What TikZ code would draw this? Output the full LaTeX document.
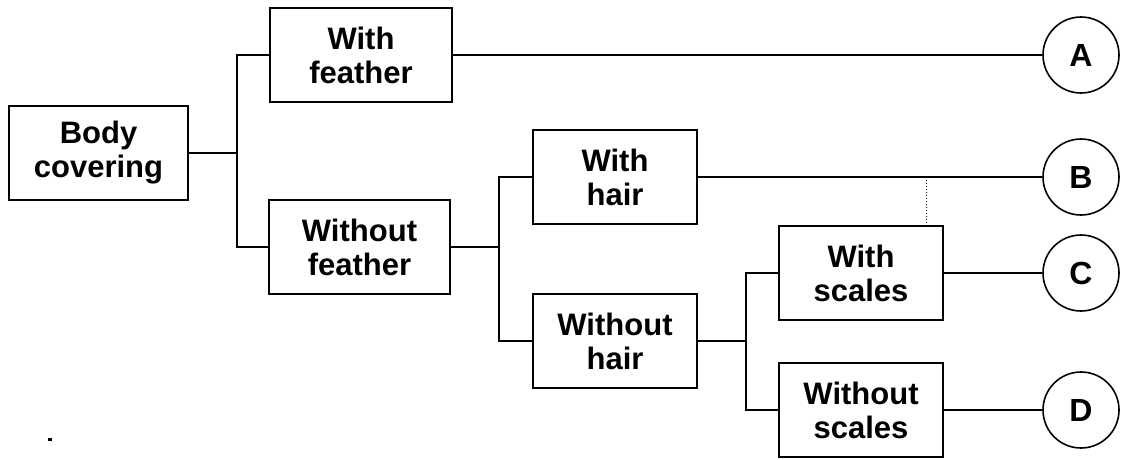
\documentclass[tikz,border=0pt]{standalone}
\usepackage{fontspec}
\setmainfont{Liberation Sans}
\begin{document}
\begin{tikzpicture}[x=1pt,y=-1pt,
  box/.style={draw, line width=1.8pt, inner sep=0pt, align=center,
    font=\bfseries\fontsize{31}{34}\selectfont, minimum height=94pt},
  leaf/.style={draw, circle, line width=1.6pt, minimum size=76pt, inner sep=0pt,
    font=\bfseries\fontsize{32}{34}\selectfont},
  conn/.style={line width=1.8pt}]
\useasboundingbox[fill=white] (0,0) rectangle (1121,459);
\node[box, minimum width=179pt] (body) at (98.5,153) {Body\\covering};
\node[box, minimum width=182pt] (wf) at (361,55) {With\\feather};
\node[box, minimum width=181pt] (wof) at (359.5,247) {Without\\feather};
\node[box, minimum width=164pt] (wh) at (615,177) {With\\hair};
\node[box, minimum width=164pt] (woh) at (615,341) {Without\\hair};
\node[box, minimum width=164pt] (ws) at (861,273) {With\\scales};
\node[box, minimum width=164pt] (wos) at (861,410) {Without\\scales};
\node[leaf] (A) at (1081,55) {A};
\node[leaf] (B) at (1081,177) {B};
\node[leaf] (C) at (1081,273) {C};
\node[leaf] (D) at (1081,410) {D};
\coordinate (t1) at (237,0);
\coordinate (t2) at (499,0);
\coordinate (t3) at (746,0);
\draw[conn] (body.east) -- (body.east -| t1);
\draw[conn] (wf.west) -- (wf.west -| t1) -- (wof.west -| t1) -- (wof.west);
\draw[conn] (wof.east) -- (wof.east -| t2);
\draw[conn] (wh.west) -- (wh.west -| t2) -- (woh.west -| t2) -- (woh.west);
\draw[conn] (woh.east) -- (woh.east -| t3);
\draw[conn] (ws.west) -- (ws.west -| t3) -- (wos.west -| t3) -- (wos.west);
\draw[conn] (wf.east) -- (A.west);
\draw[conn] (wh.east) -- (B.west);
\draw[conn] (ws.east) -- (C.west);
\draw[conn] (wos.east) -- (D.west);
\coordinate (dt) at (926,177);
\draw[line width=1pt, dotted] (dt) -- (dt |- ws.north);
\fill (48,438) rectangle (52,441);
\end{tikzpicture}
\end{document}
